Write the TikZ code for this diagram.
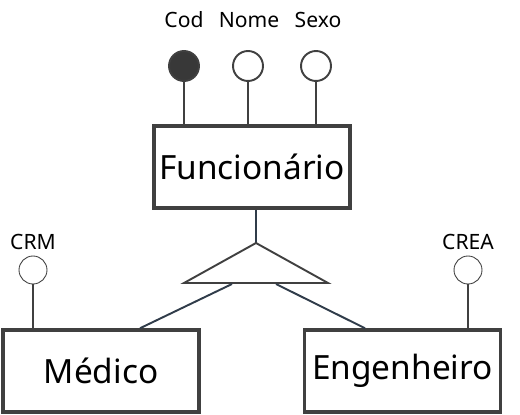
\documentclass[tikz,border=0pt]{standalone}
\usepackage{fontspec}
\setmainfont{Noto Sans}
\usetikzlibrary{positioning,calc}
\definecolor{erLine}{RGB}{64,64,64}
\definecolor{erLink}{RGB}{48,60,74}
\definecolor{erKey}{RGB}{56,56,56}

\begin{document}
\begin{tikzpicture}[x=0.02cm,y=-0.02cm,
    entidade/.style={draw=erLine,line width=2pt,fill=white,minimum width=3.92cm,
      minimum height=1.64cm,inner sep=0pt,font=\fontsize{19}{21}\selectfont},
    atrib/.style={circle,draw=erLine,line width=1.1pt,fill=white,minimum size=0.6cm,inner sep=0pt},
    chave/.style={atrib,fill=erKey},
    atribfino/.style={circle,draw=erLine,line width=0.5pt,fill=white,minimum size=0.56cm,inner sep=0pt},
    rotulo/.style={font=\fontsize{12}{14}\selectfont,text=black},
    liga/.style={draw=erLine,line width=1.1pt}]

    \useasboundingbox (0,0) rectangle (520,415);

    % entidades
    \node[entidade] (func) at (252,167) {Funcion\'ario};
    \node[entidade] (medico) at (101,371) {M\'edico};
    \node[entidade] (eng) at (402.5,371) {Engenheiro};

    % atributos de Funcionario
    \node[chave] (cod) at (184,66) {};
    \node[atrib] (nome) at (248,66) {};
    \node[atrib] (sexo) at (316,66) {};
    \node[rotulo] (lcod) at (184,20) {Cod};
    \node[rotulo] (lnome) at (249,20) {Nome};
    \node[rotulo] (lsexo) at (318,20) {Sexo};
    \foreach \a in {cod,nome,sexo}
      \draw[liga] (\a) -- (\a |- func.north);

    % atributos das especializacoes
    \node[atribfino] (crm) at (33,270) {};
    \node[atribfino] (crea) at (468,270) {};
    \node[rotulo] (lcrm) at (33,242) {CRM};
    \node[rotulo] (lcrea) at (468,242) {CREA};
    \draw[liga] (crm) -- (crm |- medico.north);
    \draw[liga] (crea) -- (crea |- eng.north);

    % especializacao
    \coordinate (topo) at (256,243);
    \coordinate (baseE) at (184,283);
    \coordinate (baseD) at (328,283);
    \coordinate (saiE) at (232,284);
    \coordinate (saiD) at (276,284);
    \draw[liga,erLink] (topo |- func.south) -- (topo);
    \draw[liga,line join=miter] (topo) -- (baseE) -- (baseD) -- cycle;
    \draw[liga,erLink] (saiE) -- (medico.north -| 140,0);
    \draw[liga,erLink] (saiD) -- (eng.north -| 365,0);

\end{tikzpicture}
\end{document}
